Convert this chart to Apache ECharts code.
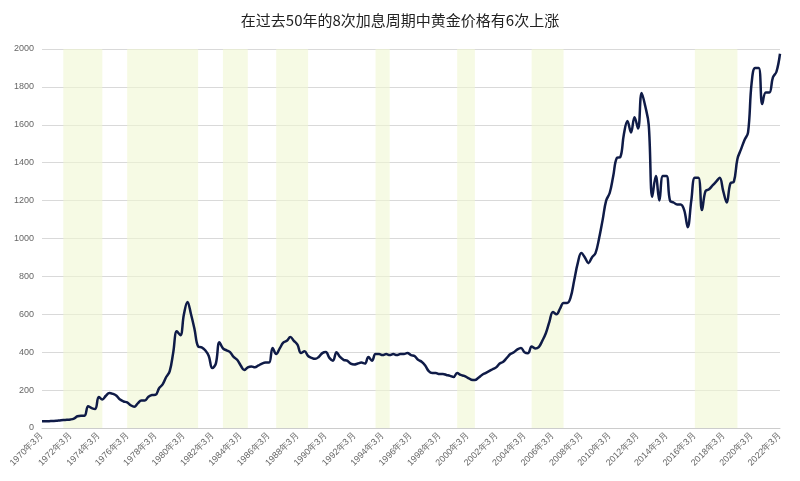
<!DOCTYPE html>
<html><head><meta charset="utf-8">
<script src="https://cdn.jsdelivr.net/npm/echarts@6/dist/echarts.min.js"></script>
<style>html,body{margin:0;padding:0;background:#fff}#c{width:800px;height:481px}</style>
</head><body><div id="c"></div>
<script>
const startYear = 1970;
const months = [3, 6, 9, 12];
const gold = [
35,35,36,37, 38,40,42,43, 45,50,62,65, 65,115,105,100, 164,150,170,185,
180,170,150,140, 135,120,112,130, 145,145,165,174, 175,210,230,269, 300,400,510,490,
600,665,600,520, 430,425,410,380, 316,340,453,420, 410,400,375,360, 330,306,320,325,
320,330,340,345, 345,422,390,420, 450,460,480,460, 440,396,405,380, 370,365,375,395,
401,370,355,400, 375,360,355,340, 335,340,345,340, 375,355,390,390, 385,390,385,390,
385,390,390,396, 385,380,360,350, 330,300,290,290, 285,285,280,275, 269,290,280,275,
265,255,253,265, 280,290,300,310, 320,340,350,370, 390,400,415,422, 400,395,430,420,
427,460,500,560, 612,600,630,660, 660,690,780,870, 923,900,870,900, 923,1000,1097,1200,
1240,1330,1425,1430, 1550,1620,1560,1640, 1580,1768,1700,1600, 1220,1330,1200,1330, 1330,1200,1190,1180,
1180,1150,1060,1200, 1320,1320,1150,1250, 1260,1280,1300,1320, 1250,1190,1290,1300, 1420,1470,1520,1560,
1820,1900,1900,1710, 1770,1770,1850,1880, 1975
];
const categories = gold.map((v, k) => (startYear + Math.floor(k / 4)) + '年' + months[k % 4] + '月');
const hikePeriods = [[6,17],[24,44],[51,58],[66,75],[94,98],[117,122],[138,147],[184,196]];

const chart = echarts.init(document.getElementById('c'));
chart.setOption({
  animation: false,
  title: { text: '在过去50年的8次加息周期中黄金价格有6次上涨', left: 'center', top: 8,
    textStyle: { fontSize: 15, fontWeight: 'normal', color: '#222', fontFamily: 'Noto Sans CJK SC' } },
  grid: { left: 42, right: 20, top: 49, bottom: 53 },
  xAxis: { type: 'category', data: categories, boundaryGap: false,
    axisLine: { lineStyle: { color: '#ccc' } }, axisTick: { show: false },
    axisLabel: { interval: 7, rotate: 45, fontSize: 9, color: '#666', margin: 6 } },
  yAxis: { type: 'value', min: 0, max: 2000, interval: 200,
    axisLabel: { fontSize: 9, color: '#666', formatter: v => String(v) },
    splitLine: { lineStyle: { color: '#d9d9d9' } } },
  series: [{
    type: 'line', data: gold, smooth: 0.4, showSymbol: false,
    lineStyle: { color: '#0f1b47', width: 2.5 },
    markArea: { silent: true, itemStyle: { color: 'rgba(240,246,210,0.6)' },
      data: hikePeriods.map(p => [{ xAxis: categories[p[0]] }, { xAxis: categories[p[1]] }]) }
  }]
});
</script></body></html>
